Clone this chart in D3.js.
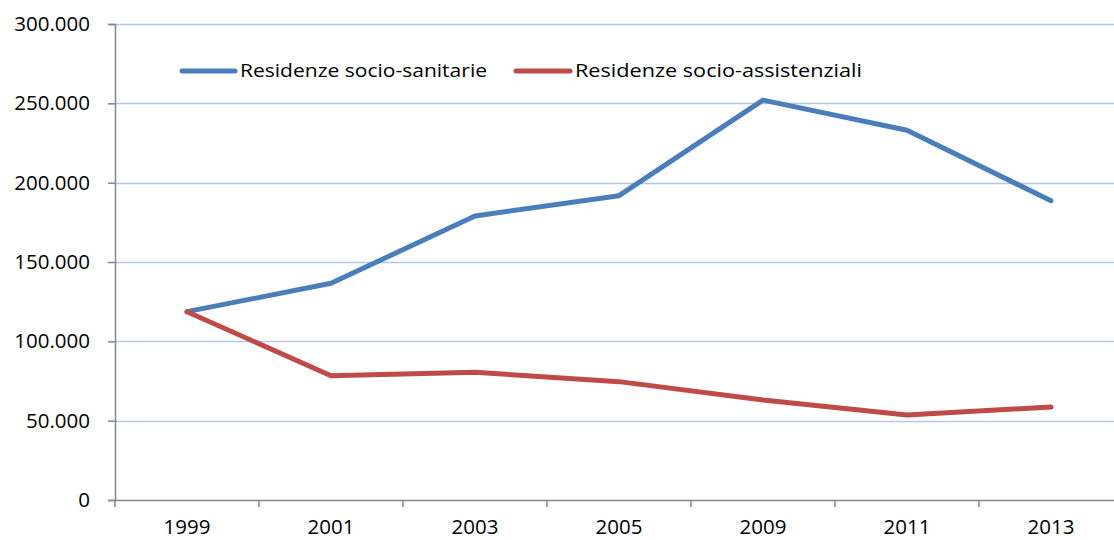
<!DOCTYPE html>
<html>
<head>
<meta charset="utf-8">
<script src="https://cdn.jsdelivr.net/npm/d3@7"></script>
<style>
  html, body { margin: 0; padding: 0; background: #fff; }
  svg { display: block; font-family: "Open Sans", sans-serif; }
</style>
</head>
<body>
<svg id="chart" width="1114" height="540"></svg>
<script>
// Anni di rilevazione
const years = ["1999", "2001", "2003", "2005", "2009", "2011", "2013"];
// Posti letto per tipologia di residenza
const socioSanitarie = [118700, 136600, 179000, 191800, 252000, 233000, 188600];
const socioAssistenziali = [118700, 78300, 80500, 74600, 63000, 53600, 58600];
const seriesNames = ["Residenze socio-sanitarie", "Residenze socio-assistenziali"];
const yTicks = [0, 50000, 100000, 150000, 200000, 250000, 300000];

const colors = ["#4a7ebb", "#be4b48"];
const fontFamily = "'Open Sans', sans-serif";
const svg = d3.select("#chart");

const plotLeft = 115, plotTop = 24, plotBottom = 500;
const step = 144;
const x = d3.scaleBand().domain(years).range([plotLeft, plotLeft + step * years.length]).paddingInner(0).paddingOuter(0);
const y = d3.scaleLinear().domain([0, 300000]).range([plotBottom, plotTop]);

const fmt = v => d3.format(",")(v).replace(/,/g, ".");

// Griglia orizzontale
svg.append("g").selectAll("line").data(yTicks.filter(d => d > 0)).join("line")
  .attr("x1", plotLeft).attr("x2", 1114)
  .attr("y1", d => Math.round(y(d)) + 0.5).attr("y2", d => Math.round(y(d)) + 0.5)
  .attr("stroke", "#b3c8e6").attr("stroke-width", 1.5);

// Asse Y
const yAxis = svg.append("g").attr("transform", `translate(${plotLeft},0)`)
  .call(d3.axisLeft(y).tickValues(yTicks).tickFormat(d => d === 0 ? "0" : fmt(d)).tickSize(7).tickPadding(18));
yAxis.select(".domain").attr("stroke", "#868686").attr("stroke-width", 1.5);
yAxis.selectAll(".tick line").attr("stroke", "#868686").attr("stroke-width", 1.5);
yAxis.selectAll(".tick text").attr("font-size", 20.5).attr("fill", "#000").attr("font-family", fontFamily);

// Asse X
const xAxis = svg.append("g").attr("transform", `translate(0,${plotBottom})`)
  .call(d3.axisBottom(x).tickSize(0).tickPadding(19));
xAxis.select(".domain").attr("stroke", "#868686").attr("stroke-width", 1.5);
xAxis.selectAll(".tick text").attr("font-size", 20.5).attr("fill", "#000").attr("font-family", fontFamily);
// Tacche tra le categorie
svg.append("g").selectAll("line").data(years).join("line")
  .attr("x1", d => x(d)).attr("x2", d => x(d))
  .attr("y1", plotBottom).attr("y2", plotBottom + 7)
  .attr("stroke", "#868686").attr("stroke-width", 1.5);

// Linee delle serie
const line = d3.line().x((d, i) => x(years[i]) + x.bandwidth() / 2).y(d => y(d));
[socioSanitarie, socioAssistenziali].forEach((vals, k) => {
  svg.append("path").datum(vals)
    .attr("d", line)
    .attr("fill", "none")
    .attr("stroke", colors[k])
    .attr("stroke-width", 5)
    .attr("stroke-linejoin", "round")
    .attr("stroke-linecap", "round");
});

// Legenda
const legendItems = [{x: 182, tx: 240, w: 247}, {x: 516, tx: 575, w: 287}];
legendItems.forEach((p, k) => {
  svg.append("line").attr("x1", p.x).attr("x2", p.tx - 5).attr("y1", 71).attr("y2", 71)
    .attr("stroke", colors[k]).attr("stroke-width", 5).attr("stroke-linecap", "round");
  svg.append("text").attr("x", p.tx).attr("y", 71).attr("dy", "0.35em")
    .attr("font-size", 18.5).attr("fill", "#000").attr("font-family", fontFamily)
    .attr("textLength", p.w).attr("lengthAdjust", "spacingAndGlyphs")
    .text(seriesNames[k]);
});
</script>
</body>
</html>
